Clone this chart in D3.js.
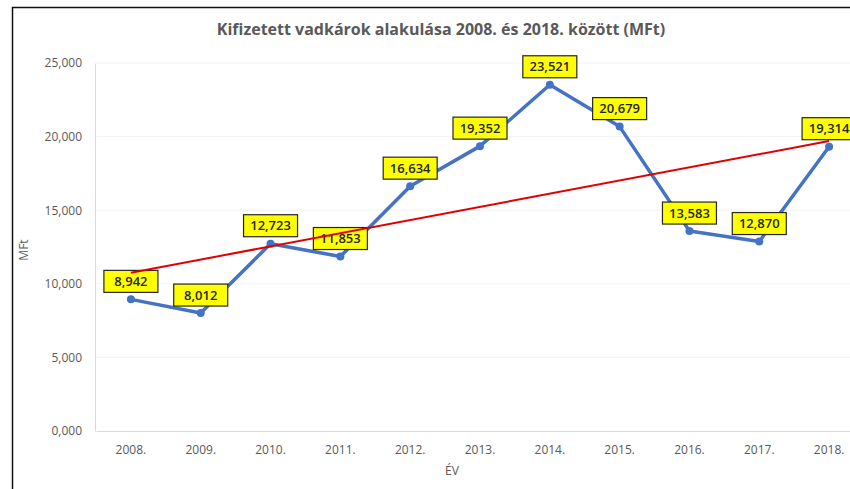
<!DOCTYPE html>
<html>
<head>
 <meta charset="utf-8"/>
 <script src="https://d3js.org/d3.v7.min.js"></script>
 <style>
  body { margin: 0; background: #fff; }
  text { font-family: "Open Sans", sans-serif; }
 </style>
</head>
<body>
 <div id="chart"></div>
 <script>
   // adatok
   var years = ["2008.", "2009.", "2010.", "2011.", "2012.", "2013.", "2014.", "2015.", "2016.", "2017.", "2018."];
   var values = [8942, 8012, 12723, 11853, 16634, 19352, 23521, 20679, 13583, 12870, 19314];
   var yTicks = [0, 5000, 10000, 15000, 20000, 25000];
   var title = "Kifizetett vadkárok alakulása 2008. és 2018. között (MFt)";

   var width = 850, height = 489;
   var svg = d3.select("#chart").append("svg")
       .attr("width", width).attr("height", height);

   // keret
   svg.append("path")
      .attr("d", "M12.5,489 V7.5 H850")
      .style("fill", "none").style("stroke", "#111").style("stroke-width", 1.5);

   var x = d3.scaleBand().domain(years).range([96, 864]);
   var y = d3.scaleLinear().domain([0, 25000]).range([431, 63]);
   var cx = function(d) { return x(d) + x.bandwidth() / 2; };

   // rácsvonalak
   svg.append("g").selectAll("line").data(yTicks.slice(1)).join("line")
      .attr("x1", 96).attr("x2", 864)
      .attr("y1", function(d){ return y(d); }).attr("y2", function(d){ return y(d); })
      .style("stroke", "#f2f2f2").style("stroke-width", 1);

   // tengelyek
   var yAxis = d3.axisLeft(y).tickValues(yTicks).tickSize(0).tickPadding(13);
   var gy = svg.append("g").attr("transform", "translate(95,0)").call(yAxis);
   gy.selectAll("text")
     .text(function(d){ return d === 0 ? "0,000" : d3.format(",")(d); })
     .style("font-size", "12px").style("fill", "#595959");
   gy.select(".domain").style("stroke", "#d9d9d9");

   var xAxis = d3.axisBottom(x).tickSize(0).tickPadding(14);
   var gx = svg.append("g").attr("transform", "translate(0,431)").call(xAxis);
   gx.selectAll("text").style("font-size", "12px").style("fill", "#595959");
   gx.select(".domain").style("stroke", "#d9d9d9");

   // címek
   svg.append("text").attr("x", 441).attr("y", 35).attr("text-anchor", "middle")
      .style("font-size", "16px").style("font-weight", "bold").style("fill", "#595959")
      .text(title);
   svg.append("text").attr("x", 452).attr("y", 475).attr("text-anchor", "middle")
      .style("font-size", "12px").style("fill", "#595959").text("ÉV");
   svg.append("text").attr("transform", "translate(28,250) rotate(-90)")
      .attr("text-anchor", "middle")
      .style("font-size", "12px").style("fill", "#595959").text("MFt");

   // adatsor
   var line = d3.line()
       .x(function(d, i){ return cx(years[i]); })
       .y(function(d){ return y(d); });
   svg.append("path").datum(values).attr("d", line)
      .style("fill", "none").style("stroke", "#4472c4").style("stroke-width", 3.5)
      .style("stroke-linejoin", "round");
   svg.append("g").selectAll("circle").data(values).join("circle")
      .attr("cx", function(d, i){ return cx(years[i]); })
      .attr("cy", function(d){ return y(d); })
      .attr("r", 4).style("fill", "#4472c4");

   // adatcímkék
   var lab = svg.append("g").selectAll("g").data(values).join("g")
      .attr("transform", function(d, i){ return "translate(" + cx(years[i]) + "," + (y(d) - 18) + ")"; });
   lab.append("rect").attr("x", -27).attr("y", -11).attr("width", 54).attr("height", 22)
      .style("fill", "#ffff00").style("stroke", "#262626").style("stroke-width", 1.2);
   lab.append("text").attr("text-anchor", "middle").attr("dy", "0.36em")
      .style("font-size", "13px").style("font-weight", "600").style("fill", "#262626")
      .text(function(d){ return d3.format(",")(d); });

   // lineáris trendvonal
   var xi = d3.range(values.length);
   var mx = d3.mean(xi), my = d3.mean(values);
   var slope = d3.sum(xi, function(i){ return (i - mx) * (values[i] - my); }) /
               d3.sum(xi, function(i){ return (i - mx) * (i - mx); });
   var icpt = my - slope * mx;
   svg.append("line")
      .attr("x1", cx(years[0])).attr("y1", y(icpt))
      .attr("x2", cx(years[years.length - 1])).attr("y2", y(icpt + slope * (years.length - 1)))
      .style("stroke", "#e00000").style("stroke-width", 2);
 </script>
</body>
</html>
